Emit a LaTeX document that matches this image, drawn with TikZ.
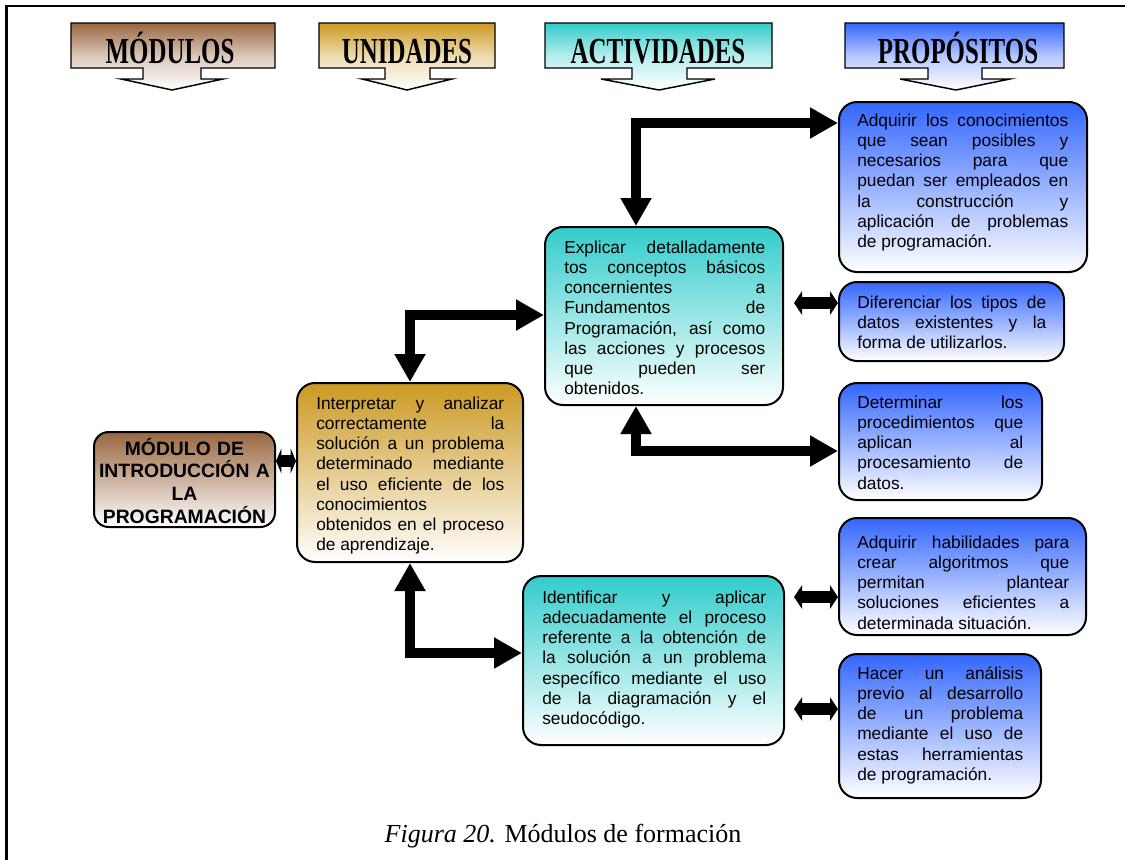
\documentclass[tikz,border=0pt]{standalone}
\usepackage{fontspec}
\setmainfont{Liberation Serif}
\newfontfamily\arialf{Liberation Sans}
\usepackage{graphicx}
\usetikzlibrary{arrows.meta,fit,calc}

\definecolor{modbrown}{RGB}{153,102,64}
\definecolor{unigold}{RGB}{204,153,34}
\definecolor{actturq}{RGB}{51,204,204}
\definecolor{propblue}{RGB}{51,102,255}

% body text of the cards: Arial-like; one justified line per \jl, ragged line \fl
\newcommand\bodytext{\arialf\fontsize{13}{15.2}\selectfont}
\newcommand\jl[1]{\hbox to\hsize{#1}}
\newcommand\fl[1]{\hbox to\hsize{#1\hfil}}
\newcommand\cardlines[2]{\vtop{\hsize=#1\relax\bodytext\baselineskip=15.2pt\relax #2}}
\newcommand\hdrword[1]{\scalebox{0.68}[1]{#1}}

\tikzset{
  frameline/.style={line width=1.9pt},
  hdr/.style={draw, line width=1.1pt, line join=miter, bottom color=white},
  hdrtext/.style={font=\bfseries\fontsize{27.5}{30}\selectfont, anchor=base, inner sep=0},
  card/.style={draw, line width=1.5pt, rounded corners=13.5pt, inner sep=0, bottom color=white},
  cardtext/.style={anchor=base west, inner sep=0},
  bigarrow/.style={line width=7.5pt, line join=miter,
    {Triangle[width=22pt,length=21pt]}-{Triangle[width=22pt,length=21pt]}},
  twin/.style={line width=9.5pt,
    {Triangle[width=17.5pt,length=6pt]}-{Triangle[width=17.5pt,length=6pt]}},
  twinshort/.style={line width=9pt,
    {Triangle[width=18.5pt,length=4pt]}-{Triangle[width=18.5pt,length=4pt]}},
}

\begin{document}
\begin{tikzpicture}[x=0.75pt,y=-0.75pt]
\useasboundingbox (0,0) rectangle (1125,860);

% page frame
\draw[frameline] (6.5,860) -- (6.5,6) -- (1125,6);

% column headers (box with a down-pointing arrow)
\path[hdr, top color=modbrown, middle color=modbrown!35!white]
  (71,23) -- (275,23) -- (275,68) -- (201,68) -- (201,79) -- (223,79) -- (172,90)
  -- (121,79) -- (143,79) -- (143,68) -- (71,68) -- cycle;
\path[hdr, top color=unigold, middle color=unigold!35!white]
  (319,23) -- (495,23) -- (495,68) -- (430,68) -- (430,79) -- (452,79) -- (407,90)
  -- (362,79) -- (385,79) -- (385,68) -- (319,68) -- cycle;
\path[hdr, top color=actturq, middle color=actturq!35!white]
  (545,23) -- (772,23) -- (772,68) -- (687,68) -- (687,79) -- (715,79) -- (659,90)
  -- (601,79) -- (632,79) -- (632,68) -- (545,68) -- cycle;
\path[hdr, top color=propblue, middle color=propblue!35!white]
  (845,23) -- (1064,23) -- (1064,68) -- (982,68) -- (982,79) -- (1010,79) -- (956,90)
  -- (900,79) -- (928,79) -- (928,68) -- (845,68) -- cycle;
\node[hdrtext] (hmod) at (170,63) {\hdrword{MÓDULOS}};
\node[hdrtext] (huni) at (407,63) {\hdrword{UNIDADES}};
\node[hdrtext] (hact) at (658,63) {\hdrword{ACTIVIDADES}};
\node[hdrtext] (hpro) at (958,63) {\hdrword{PROPÓSITOS}};

% cards
\node[card, top color=modbrown, rounded corners=11pt, fit={(94,432) (275,527)}] (n1) {};
\node[card, top color=unigold, fit={(297,383) (523,562)}] (n2) {};
\node[card, top color=actturq, fit={(545,227) (783,405)}] (n3) {};
\node[card, top color=actturq, fit={(523,576) (784,745)}] (n4) {};
\node[card, top color=propblue, fit={(839,102) (1087,272)}] (p1) {};
\node[card, top color=propblue, fit={(839,282) (1064,361)}] (p2) {};
\node[card, top color=propblue, fit={(839,383) (1042,500)}] (p3) {};
\node[card, top color=propblue, fit={(839,518) (1086,635)}] (p4) {};
\node[card, top color=propblue, fit={(839,654) (1041,798)}] (p5) {};

% card texts
\node[anchor=base, inner sep=0, text width=135.75pt, align=center,
      font=\arialf\bfseries\fontsize{14.5}{17}\selectfont] (n1t) at (184.5,455)
  {MÓDULO DE\\INTRODUCCIÓN A\\LA\\PROGRAMACIÓN};

\node[cardtext] (n2t) at (316,409) {\cardlines{141pt}{%
  \jl{Interpretar y analizar}
  \jl{correctamente la}
  \jl{solución a un problema}
  \jl{determinado mediante}
  \jl{el uso eficiente de los}
  \fl{conocimientos}
  \jl{obtenidos en el proceso}
  \fl{de aprendizaje.}}};

\node[cardtext] (n3t) at (564,253) {\cardlines{150.75pt}{%
  \jl{Explicar detalladamente}
  \jl{tos conceptos básicos}
  \jl{concernientes a}
  \jl{Fundamentos de}
  \jl{Programación, así como}
  \jl{las acciones y procesos}
  \jl{que pueden ser}
  \fl{obtenidos.}}};

\node[cardtext] (n4t) at (542,603) {\cardlines{168pt}{%
  \jl{Identificar y aplicar}
  \jl{adecuadamente el proceso}
  \jl{referente a la obtención de}
  \jl{la solución a un problema}
  \jl{específico mediante el uso}
  \jl{de la diagramación y el}
  \fl{seudocódigo.}}};

\node[cardtext] (p1t) at (857,126) {\cardlines{158.25pt}{%
  \jl{Adquirir los conocimientos}
  \jl{que sean posibles y}
  \jl{necesarios para que}
  \jl{puedan ser empleados en}
  \jl{la construcción y}
  \jl{aplicación de problemas}
  \fl{de programación.}}};

\node[cardtext] (p2t) at (857,308) {\cardlines{141.75pt}{%
  \jl{Diferenciar los tipos de}
  \jl{datos existentes y la}
  \fl{forma de utilizarlos.}}};

\node[cardtext] (p3t) at (857,408) {\cardlines{124.5pt}{%
  \jl{Determinar los}
  \jl{procedimientos que}
  \jl{aplican al}
  \jl{procesamiento de}
  \fl{datos.}}};

\node[cardtext] (p4t) at (857,548) {\cardlines{159pt}{%
  \jl{Adquirir habilidades para}
  \jl{crear algoritmos que}
  \jl{permitan plantear}
  \jl{soluciones eficientes a}
  \fl{determinada situación.}}};

\node[cardtext] (p5t) at (857,679) {\cardlines{124.5pt}{%
  \jl{Hacer un análisis}
  \jl{previo al desarrollo}
  \jl{de un problema}
  \jl{mediante el uso de}
  \jl{estas herramientas}
  \fl{de programación.}}};

% connectors
\draw[bigarrow] (n3.north -| 636,0) |- (p1.west |- 0,123);
\draw[bigarrow] (n2.north -| 410,0) |- (n3.west |- 0,315);
\draw[bigarrow] (n3.south -| 636,0) |- (p3.west |- 0,451);
\draw[bigarrow] (n2.south -| 410,0) |- (n4.west |- 0,653);
\draw[twinshort] (n1.east |- 0,461) -- (n2.west |- 0,461);
\draw[twin] ($(n3.east |- 0,303)+(10,0)$) -- (p2.west |- 0,303);
\draw[twin] ($(n4.east |- 0,597)+(9,0)$) -- (p4.west |- 0,597);
\draw[twin] ($(n4.east |- 0,709)+(9,0)$) -- (p5.west |- 0,709);

% caption
\node[anchor=base, inner sep=0, font=\fontsize{19.5}{22}\selectfont] (caption) at (563,842)
  {\textit{Figura 20.} Módulos de formación};
\end{tikzpicture}
\end{document}
